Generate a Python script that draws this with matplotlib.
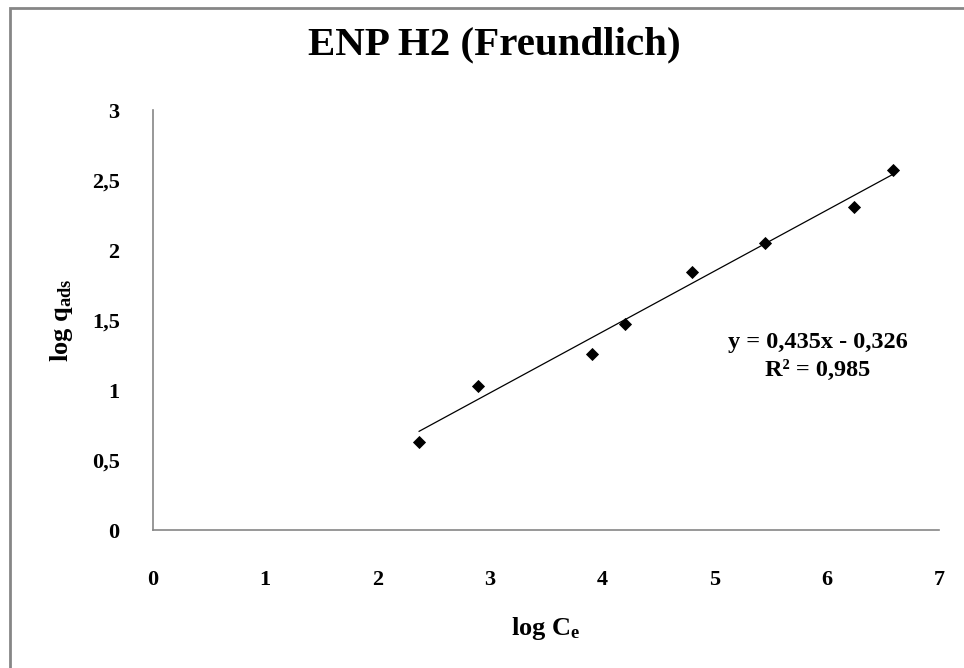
import matplotlib
matplotlib.use('Agg')
import matplotlib.pyplot as plt
from matplotlib.patches import Rectangle
from matplotlib.ticker import FuncFormatter
import numpy as np

# data
log_ce = [2.37, 2.89, 3.91, 4.20, 4.80, 5.45, 6.24, 6.59]
log_q = [0.63, 1.03, 1.255, 1.47, 1.845, 2.047, 2.31, 2.569]
slope = 0.435
intercept = -0.326
r_squared = 0.985
x_ticks = [0, 1, 2, 3, 4, 5, 6, 7]
y_ticks = [0, 0.5, 1, 1.5, 2, 2.5, 3]

plt.rcParams['font.family'] = 'Liberation Serif'
plt.rcParams['font.weight'] = 'bold'
plt.rcParams['mathtext.fontset'] = 'custom'
plt.rcParams['mathtext.rm'] = 'Liberation Serif:bold'
plt.rcParams['mathtext.bf'] = 'Liberation Serif:bold'
plt.rcParams['mathtext.it'] = 'Liberation Serif:bold'

W, H = 964, 668
fig = plt.figure(figsize=(W / 100, H / 100), dpi=100)
ax = fig.add_axes([153 / W, 1 - 530 / H, (939 - 153) / W, (530 - 110) / H])


def comma(v, pos):
    return ('%g' % v).replace('.', ',')


ax.plot(log_ce, log_q, linestyle='none', marker='D', ms=6, mew=0.6,
        color='black', zorder=3)

# linear trendline over the data range
xs = np.array([min(log_ce), max(log_ce)])
ax.plot(xs, slope * xs + intercept, color='black', lw=0.9, zorder=2)

ax.set_xlim(0, 7)
ax.set_ylim(0, 3)
ax.set_xticks(x_ticks)
ax.set_yticks(y_ticks)
ax.xaxis.set_major_formatter(FuncFormatter(comma))
ax.yaxis.set_major_formatter(FuncFormatter(comma))
ax.tick_params(axis='both', length=0, labelsize=16)
ax.tick_params(axis='x', pad=29)
ax.tick_params(axis='y', pad=24)

for side in ['top', 'right']:
    ax.spines[side].set_visible(False)
for side in ['left', 'bottom']:
    ax.spines[side].set_color('#868686')
    ax.spines[side].set_linewidth(1.2)

eq = 'y = ' + comma(slope, 0) + 'x - ' + comma(-intercept, 0)
ax.text(5.92, 1.336, eq, ha='center', va='center', fontsize=17.5)
ax.text(5.92, 1.14, 'R² = ' + comma(r_squared, 0), ha='center', va='center',
        fontsize=17.5)

fig.text(494 / W, 1 - 45 / H, 'ENP H2 (Freundlich)', ha='center', va='center',
         fontsize=29.5)
fig.text(546 / W, 1 - 628 / H, r'log C$_{\mathrm{e}}$', ha='center',
         va='center', fontsize=19)
fig.text(62 / W, 1 - 320 / H, r'log q$_{\mathrm{ads}}$', ha='center',
         va='center', fontsize=19, rotation=90)

# gray chart-area border (only top and left edges fall inside the picture)
fig.add_artist(Rectangle((10 / W, -0.5), 2, 1.5 - 8 / H,
                         transform=fig.transFigure, fill=False,
                         edgecolor='#868686', lw=2))

fig.savefig('out.png', dpi=100)
